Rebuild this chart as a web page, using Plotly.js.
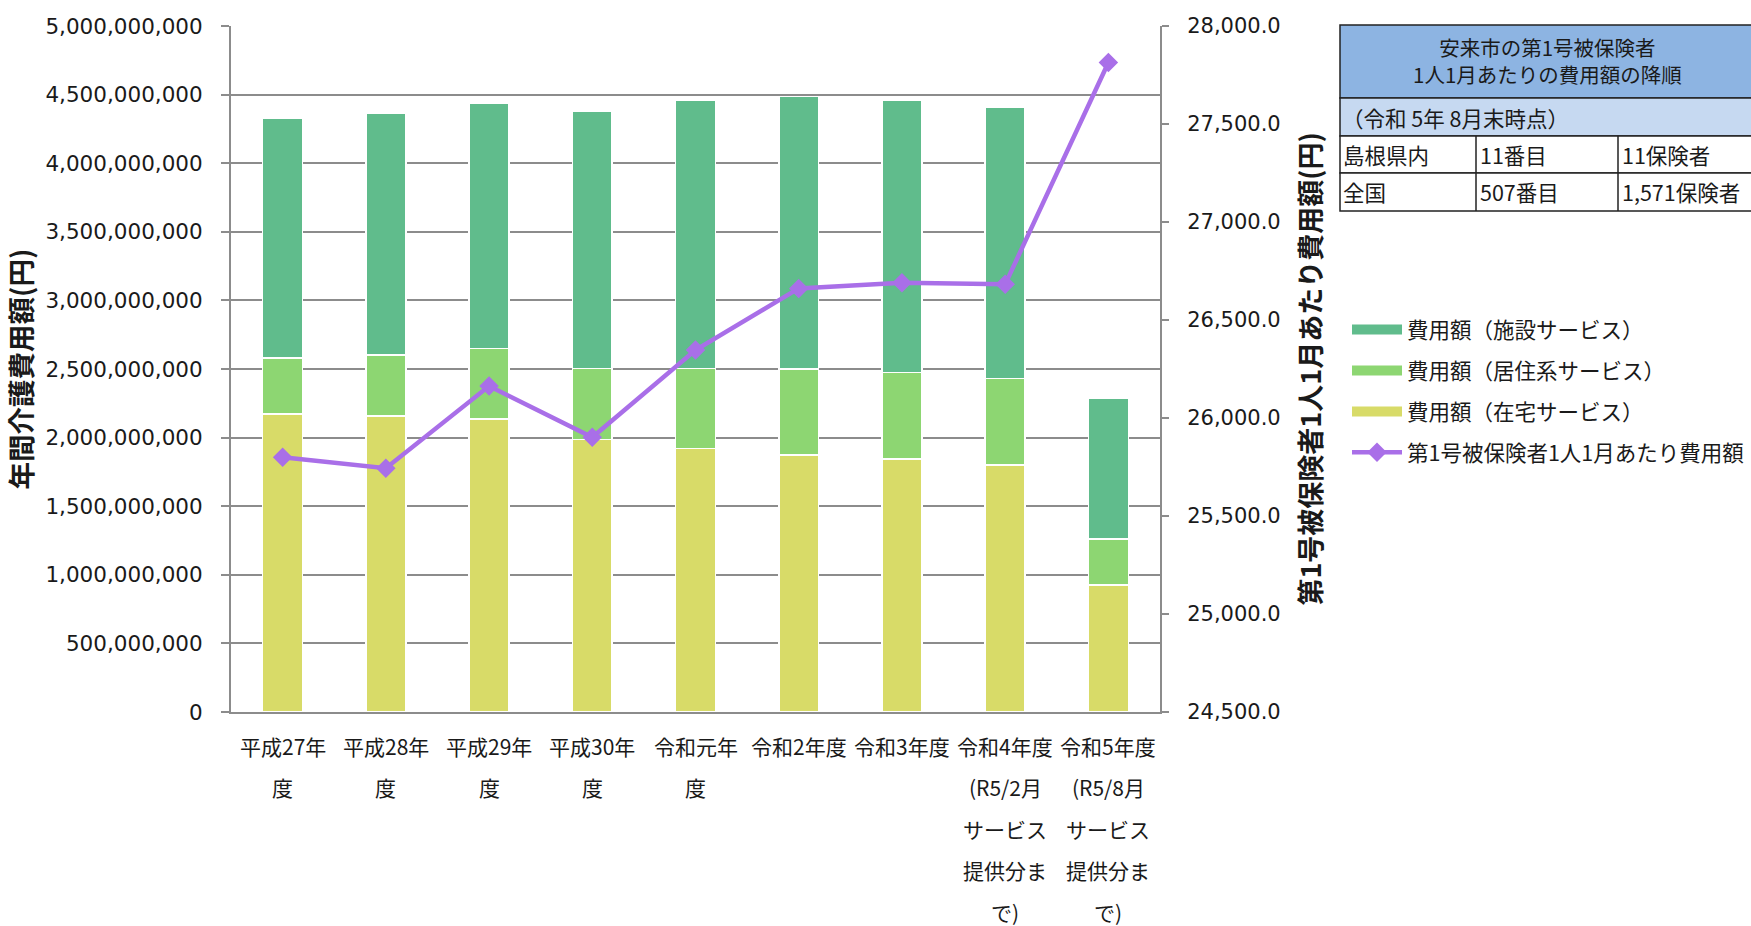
<!DOCTYPE html>
<html><head><meta charset="utf-8">
<script src="https://cdn.plot.ly/plotly-3.0.1.min.js"></script>
<style>html,body{margin:0;padding:0;background:#fff;}#chart{width:1751px;height:926px;}</style>
</head><body><div id="chart"></div>
<script>
// ---- data ----
const categories = ["平成27年度","平成28年度","平成29年度","平成30年度","令和元年度","令和2年度","令和3年度","令和4年度(R5/2月サービス提供分まで)","令和5年度(R5/8月サービス提供分まで)"];
const categoryLabelLines = [
  ["平成27年","度"],["平成28年","度"],["平成29年","度"],["平成30年","度"],["令和元年","度"],
  ["令和2年度"],["令和3年度"],
  ["令和4年度","(R5/2月","サービス","提供分ま","で)"],
  ["令和5年度","(R5/8月","サービス","提供分ま","で)"]
];
const homeCare        = [2172e6, 2158e6, 2136e6, 1988e6, 1922e6, 1874e6, 1845e6, 1801e6, 927e6];
const residentialCare = [410e6, 444e6, 515e6, 517e6, 583e6, 626e6, 628e6, 631e6, 333e6];
const facilityCare    = [1748e6, 1764e6, 1788e6, 1876e6, 1954e6, 1988e6, 1986e6, 1974e6, 1027e6];
const perCapitaMonthly = [25800, 25744, 26163, 25902, 26347, 26661, 26690, 26682, 27814];
const seriesNames = ["費用額（施設サービス）","費用額（居住系サービス）","費用額（在宅サービス）","第1号被保険者1人1月あたり費用額"];
const leftAxisTitle = "年間介護費用額(円)";
const rightAxisTitle = "第1号被保険者1人1月あたり費用額(円)";
const tableTitleLines = ["安来市の第1号被保険者","1人1月あたりの費用額の降順"];
const tableNote = "（令和 5年 8月末時点）";
const tableRows = [["島根県内","11番目","11保険者"],["全国","507番目","1,571保険者"]];

// ---- styles ----
const C_FAC = "#60BC8C", C_RES = "#8DD672", C_HOME = "#D8DB68", C_LINE = "#A96FE8";
const GRID = "#8c8c8c";
const NUMFONT = "DejaVu Sans";
const JPFONT = "Noto Sans CJK JP";
const TXT = "#1a1a1a";

const W = 1751, H = 926, ML = 231, MR = 591, MT = 26, MB = 214;
const PW = W - ML - MR, PH = H - MT - MB;
const px = v => (v - ML) / PW;
const py = v => (H - MB - v) / PH;

const traces = [
  {type:"bar", name:seriesNames[2], x:categories, y:homeCare, marker:{color:C_HOME, line:{color:"#fff", width:1.5}}, showlegend:false},
  {type:"bar", name:seriesNames[1], x:categories, y:residentialCare, marker:{color:C_RES, line:{color:"#fff", width:1.5}}, showlegend:false},
  {type:"bar", name:seriesNames[0], x:categories, y:facilityCare, marker:{color:C_FAC, line:{color:"#fff", width:1.5}}, showlegend:false},
  // legend swatches for bars
  {type:"scatter", mode:"lines", name:seriesNames[0], x:[null], y:[null], line:{color:C_FAC, width:14}, legendgroup:"a", legendrank:1, hoverinfo:"skip"},
  {type:"scatter", mode:"lines", name:seriesNames[1], x:[null], y:[null], line:{color:C_RES, width:14}, legendgroup:"b", legendrank:2, hoverinfo:"skip"},
  {type:"scatter", mode:"lines", name:seriesNames[2], x:[null], y:[null], line:{color:C_HOME, width:14}, legendgroup:"c", legendrank:3, hoverinfo:"skip"},
  {type:"scatter", mode:"lines+markers", name:seriesNames[3], x:categories, y:perCapitaMonthly, yaxis:"y2",
   line:{color:C_LINE, width:4.5}, marker:{symbol:"diamond", size:15, color:C_LINE}, legendgroup:"d", legendrank:4}
];

const annotations = [];
categoryLabelLines.forEach((lines, i) => {
  lines.forEach((t, j) => {
    annotations.push({xref:"x", x:categories[i], yref:"paper", y:0, yshift:-(34 + j*41.4),
      text:t, showarrow:false, xanchor:"center", yanchor:"middle",
      font:{family:JPFONT, size:21, color:TXT}});
  });
});

// table
const TL = 1340, TR = 1760, c1 = 1476, c2 = 1618;
const rY = [25, 98, 136, 173, 211];
const shapes = [
  {type:"rect", xref:"paper", yref:"paper", x0:px(TL), x1:px(TR), y0:py(rY[0]), y1:py(rY[1]), fillcolor:"#8DB4E2", line:{color:"#222", width:1.5}, layer:"above"},
  {type:"rect", xref:"paper", yref:"paper", x0:px(TL), x1:px(TR), y0:py(rY[1]), y1:py(rY[2]), fillcolor:"#C6D9F1", line:{color:"#222", width:1.5}, layer:"above"},
  {type:"rect", xref:"paper", yref:"paper", x0:px(TL), x1:px(TR), y0:py(rY[2]), y1:py(rY[3]), fillcolor:"#fff", line:{color:"#222", width:1.5}, layer:"above"},
  {type:"rect", xref:"paper", yref:"paper", x0:px(TL), x1:px(TR), y0:py(rY[3]), y1:py(rY[4]), fillcolor:"#fff", line:{color:"#222", width:1.5}, layer:"above"},
  {type:"line", xref:"paper", yref:"paper", x0:px(c1), x1:px(c1), y0:py(rY[2]), y1:py(rY[4]), line:{color:"#222", width:1.5}, layer:"above"},
  {type:"line", xref:"paper", yref:"paper", x0:px(c2), x1:px(c2), y0:py(rY[2]), y1:py(rY[4]), line:{color:"#222", width:1.5}, layer:"above"}
];
const tf = {family:JPFONT, size:21.5, color:TXT};
annotations.push({xref:"paper", yref:"paper", x:px(1547), y:py(61), text:tableTitleLines.join("<br>"), showarrow:false, xanchor:"center", yanchor:"middle", align:"center", font:{family:JPFONT, size:20.5, color:TXT}});
annotations.push({xref:"paper", yref:"paper", x:px(1340), y:py(117), text:tableNote, showarrow:false, xanchor:"left", yanchor:"middle", font:tf});
const colX = [1341, 1478, 1620];
tableRows.forEach((row, r) => {
  row.forEach((t, c) => {
    annotations.push({xref:"paper", yref:"paper", x:px(colX[c]), y:py(r === 0 ? 154 : 192), text:t, showarrow:false, xanchor:"left", yanchor:"middle", font:tf});
  });
});

const layout = {
  width:W, height:H,
  margin:{l:ML, r:MR, t:MT, b:MB, autoexpand:false},
  paper_bgcolor:"#fff", plot_bgcolor:"#fff",
  barmode:"stack", bargap:0.614,
  font:{family:NUMFONT, color:TXT},
  xaxis:{type:"category", range:[-0.5, 8.5], showgrid:false, showline:true, linecolor:GRID, linewidth:2,
         showticklabels:false, ticks:"", zeroline:false, fixedrange:true},
  yaxis:{range:[0, 5e9], dtick:5e8, tick0:0, tickformat:",d", showgrid:true, gridcolor:GRID, gridwidth:2,
         showline:true, linecolor:GRID, linewidth:2, ticks:"outside", ticklen:8, tickwidth:2, tickcolor:GRID,
         ticklabelstandoff:14, zeroline:false, tickfont:{family:NUMFONT, size:21.5, color:TXT},
         title:{text:"<b>"+leftAxisTitle+"</b>", font:{family:JPFONT, size:27.5, color:TXT}, standoff:10}},
  yaxis2:{overlaying:"y", side:"right", range:[24500, 28000], dtick:500, tick0:24500, tickformat:",.1f", showgrid:false,
          showline:true, linecolor:GRID, linewidth:2, ticks:"outside", ticklen:7, tickwidth:2, tickcolor:GRID,
          ticklabelstandoff:14, zeroline:false, tickfont:{family:NUMFONT, size:21, color:TXT},
          title:{text:"<b>"+rightAxisTitle+"</b>", font:{family:JPFONT, size:27, color:TXT}, standoff:22}},
  legend:{xref:"container", yref:"container", x:1347/W, y:1 - 309/H, xanchor:"left", yanchor:"top",
          traceorder:"grouped", tracegroupgap:10, itemwidth:50, bgcolor:"rgba(0,0,0,0)",
          font:{family:JPFONT, size:21.5, color:TXT}},
  annotations:annotations,
  shapes:shapes,
  showlegend:true
};

Plotly.newPlot("chart", traces, layout, {displayModeBar:false, staticPlot:true});
</script>
</body></html>
